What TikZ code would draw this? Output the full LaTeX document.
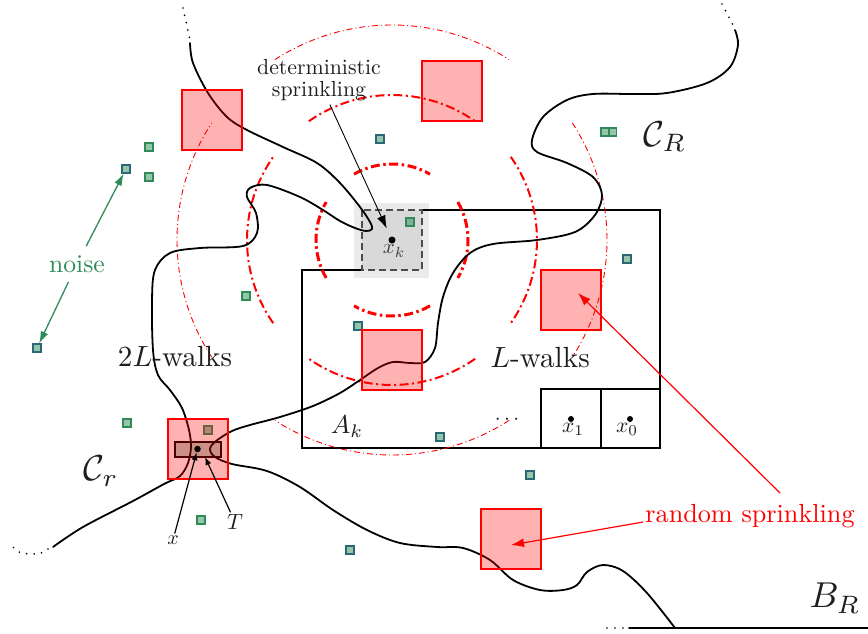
\documentclass[tikz,border=0pt]{standalone}
\usepackage{graphicx}
\usetikzlibrary{arrows.meta}
\definecolor{noisegreen}{RGB}{46,139,87}
\definecolor{noiseteal}{RGB}{42,104,118}
\definecolor{txt}{RGB}{30,30,30}
\definecolor{tfill}{RGB}{184,207,193}
\begin{document}
\begin{tikzpicture}[x=1pt,y=-1pt,
  walk/.style={line width=1.8pt, line join=round, line cap=round},
  walkdots/.style={line width=1.9pt, line cap=round, dash pattern=on 0pt off 7.5pt},
  frame/.style={line width=1.1pt},
  ringA/.style={red, line width=3pt, dash pattern=on 9pt off 3.5pt on 2.5pt off 3.5pt},
  ringB/.style={red, line width=2pt, dash pattern=on 9pt off 3.5pt on 2pt off 3.5pt},
  ringC/.style={red, line width=0.9pt, dash pattern=on 6pt off 3pt on 1pt off 3pt},
  redbox/.style={draw=red, line width=1.1pt, fill=red, fill opacity=0.3, minimum size=60pt, inner sep=0pt, outer sep=0pt},
  noisebox/.style={draw=noisegreen, line width=1.3pt, fill=noisegreen, fill opacity=0.5, minimum size=8pt, inner sep=0pt},
  noisetbox/.style={noisebox, draw=noiseteal},
  pt/.style={circle, fill=black, inner sep=0pt, minimum size=#1},
  lbl/.style={text=txt, inner sep=2pt},
  detarrow/.style={black, line width=0.9pt, -{Latex[length=13pt,width=9pt]}},
  rsarrow/.style={red, line width=1.2pt, -{Latex[length=13pt,width=9pt]}},
  narrow/.style={noisegreen, line width=1.3pt, -{Latex[length=12pt,width=8pt]}},
  smallarrow/.style={black, line width=1.2pt, -{Latex[length=8pt,width=6pt]}},
]
\useasboundingbox (0,0) rectangle (868,634);

% shaded cell around x_k
\fill[black!8] (354,203) rectangle (429,278);
\fill[black!15] (362,210) rectangle (422,270);

% the region A_k and the last two cells
\draw[frame] (362,270) -- (302,270) -- (302,448) -- (660,448) -- (660,210) -- (422,210);
\draw[frame] (541,448) -- (541,389) -- (660,389);
\draw[frame] (601,389) -- (601,448);
\draw[black!70, line width=1.1pt, dash pattern=on 7pt off 4pt]
  (362,210) rectangle (422,270);

% dash-dotted annuli around x_k
\coordinate (c) at (392,240);
\foreach \a in {0,90,180,270}{
  \draw[ringA] (c) ++(\a-30:76) arc[start angle=\a-30, end angle=\a+30, radius=76];
  \draw[ringB] (c) ++(\a-35:145) arc[start angle=\a-35, end angle=\a+35, radius=145];
  \draw[ringC] (c) ++(\a-33:215) arc[start angle=\a-33, end angle=\a+33, radius=215];
}

% noise cells
\node[noisebox]  (n1)  at (149,147) {};
\node[noisetbox] (nA)  at (126,169) {};
\node[noisebox]  (n3)  at (149,177) {};
\node[noisebox]  (n4)  at (246,296) {};
\node[noisetbox] (nB)  at (37,348) {};
\node[noisetbox] (n6)  at (380,139) {};
\node[noisebox]  (n7)  at (410,222) {};
\node[noisebox]  (n8)  at (605,132) {};
\node[noisebox]  (n9)  at (612.5,132) {};
\node[noisetbox] (n10) at (627,259) {};
\node[noisetbox] (n11) at (358,326) {};
\node[noisetbox] (n12) at (440,437) {};
\node[noisebox]  (n13) at (127,423) {};
\node[noisebox]  (n14) at (208,430) {};
\node[noisebox]  (n15) at (201,520) {};
\node[noisetbox] (n16) at (350,550) {};
\node[noisetbox] (n17) at (530,475) {};

% the set T
\node[draw=black, line width=1.1pt, fill=tfill, minimum width=46pt, minimum height=15pt, inner sep=0pt] (Tset) at (198,449.5) {};

% first walk: from the top left, through x_k, down to the bottom left
\draw[walkdots] (183,8) -- (190,40);
\draw[walk] plot[smooth, tension=0.55] coordinates {
  (190,43) (193,63) (208,93) (227,117) (247,130) (283,147) (317,163)
  (340,183) (360,207) (370,222) (372,229) (366,231) (355,228) (340,221)
  (323,210) (300,197) (267,185) (250,188) (247,197) (256,213) (257,233)
  (243,246) (200,248) (170,253) (155,270) (152,300) (153,350) (158,375)
  (170,390) (182,408) (189,430) (191,447) (188,463) (180,476) (164,484)
  (133,501) (83,527) (53,547)};
\draw[walkdots] plot[smooth] coordinates {(48,549) (41,553) (30,554) (19,552) (13,547)};

% second walk: from the top right, through A_k and T, to B_R
\draw[walkdots] (722,4) -- (733,25);
\draw[walk] plot[smooth, tension=0.55] coordinates {
  (735,30) (738,45) (730,67) (707,83) (667,93) (633,94) (593,94)
  (567,100) (543,117) (532,140) (537,152) (567,163) (593,177) (602,195)
  (595,215) (575,232) (537,240) (493,244) (470,253) (453,273) (443,297)
  (438,323) (435,348) (425,362) (410,363) (393,362) (378,368) (360,380)
  (340,393) (313,406) (280,417) (250,425) (232,431) (216,441) (210,449)
  (215,457) (232,464) (267,471) (300,487) (333,510) (367,530) (400,543)
  (437,547) (463,548) (490,560) (513,580) (540,590) (563,590) (577,585)
  (587,572) (603,565) (623,571) (647,593) (675,628)};

% boundary of B_R
\draw[walk] (629,628) -- (868,628);
\draw[walkdots, dash pattern=on 0pt off 8pt] (607,628) -- (624,628);

% sprinkled boxes
\node[redbox] (sq1) at (212,120) {};
\node[redbox] (sq2) at (452,91) {};
\node[redbox] (sq3) at (571,300) {};
\node[redbox] (sq4) at (392,360) {};
\node[redbox] (sq5) at (198,449) {};
\node[redbox] (sq6) at (511,539) {};

% marked points
\node[pt=7pt] (xkdot) at (392,240) {};
\node[pt=6pt] (x1dot) at (571,419) {};
\node[pt=6pt] (x0dot) at (630,419) {};
\node[pt=6.5pt] (xdot) at (197.5,449) {};

% labels
\node[lbl] (det) at (319,81) {\scalebox{2.18}{\renewcommand\arraystretch{0.8}\begin{tabular}{@{}c@{}}deterministic\\sprinkling\end{tabular}}};
\node[lbl, text=noisegreen] (noise) at (77,264) {\scalebox{2.56}{noise}};
\node[lbl, text=red] (rs) at (750,516) {\scalebox{2.62}{random sprinkling}};
\node[lbl] (walks2) at (175,357) {\scalebox{2.92}{$2L$-walks}};
\node[lbl] (walks1) at (540,358) {\scalebox{2.92}{$L$-walks}};
\node[lbl] (Ak) at (347,427) {\scalebox{2.6}{$A_k$}};
\node[lbl] (CR) at (665,137) {\scalebox{3.6}{$\mathcal{C}_R$}};
\node[lbl] (Cr) at (101,471) {\scalebox{3.6}{$\mathcal{C}_r$}};
\node[lbl] (BR) at (835,598) {\scalebox{3.6}{$B_R$}};
\node[lbl, text=black!75] (xk) at (394,251) {\scalebox{2.1}{$x_k$}};
\node[lbl] (x1) at (573,429) {\scalebox{2.15}{$x_1$}};
\node[lbl] (x0) at (627,429) {\scalebox{2.15}{$x_0$}};
\node[lbl, anchor=base] (dots) at (507,424) {\scalebox{2.1}{$\cdots$}};
\node[lbl] (xl) at (173,540) {\scalebox{2.0}{$x$}};
\node[lbl] (Tl) at (235,522) {\scalebox{2.2}{$T$}};

% pointers
\coordinate (rsTipA) at (511,545);
\coordinate (rsTipB) at (578,293);
\coordinate (Ttip) at (205,457);
\draw[detarrow, shorten >=9pt] (det) -- (xkdot);
\draw[narrow, shorten <=8pt] (noise) -- (nA);
\draw[narrow, shorten <=8pt] (noise) -- (nB);
\draw[rsarrow] ([yshift=-6pt]rs.west) -- (rsTipA);
\draw[rsarrow] ([xshift=30pt,yshift=9pt]rs.north) -- (rsTipB);
\draw[smallarrow] (xl) -- (xdot);
\draw[smallarrow] (Tl) -- (Ttip);
\end{tikzpicture}
\end{document}
